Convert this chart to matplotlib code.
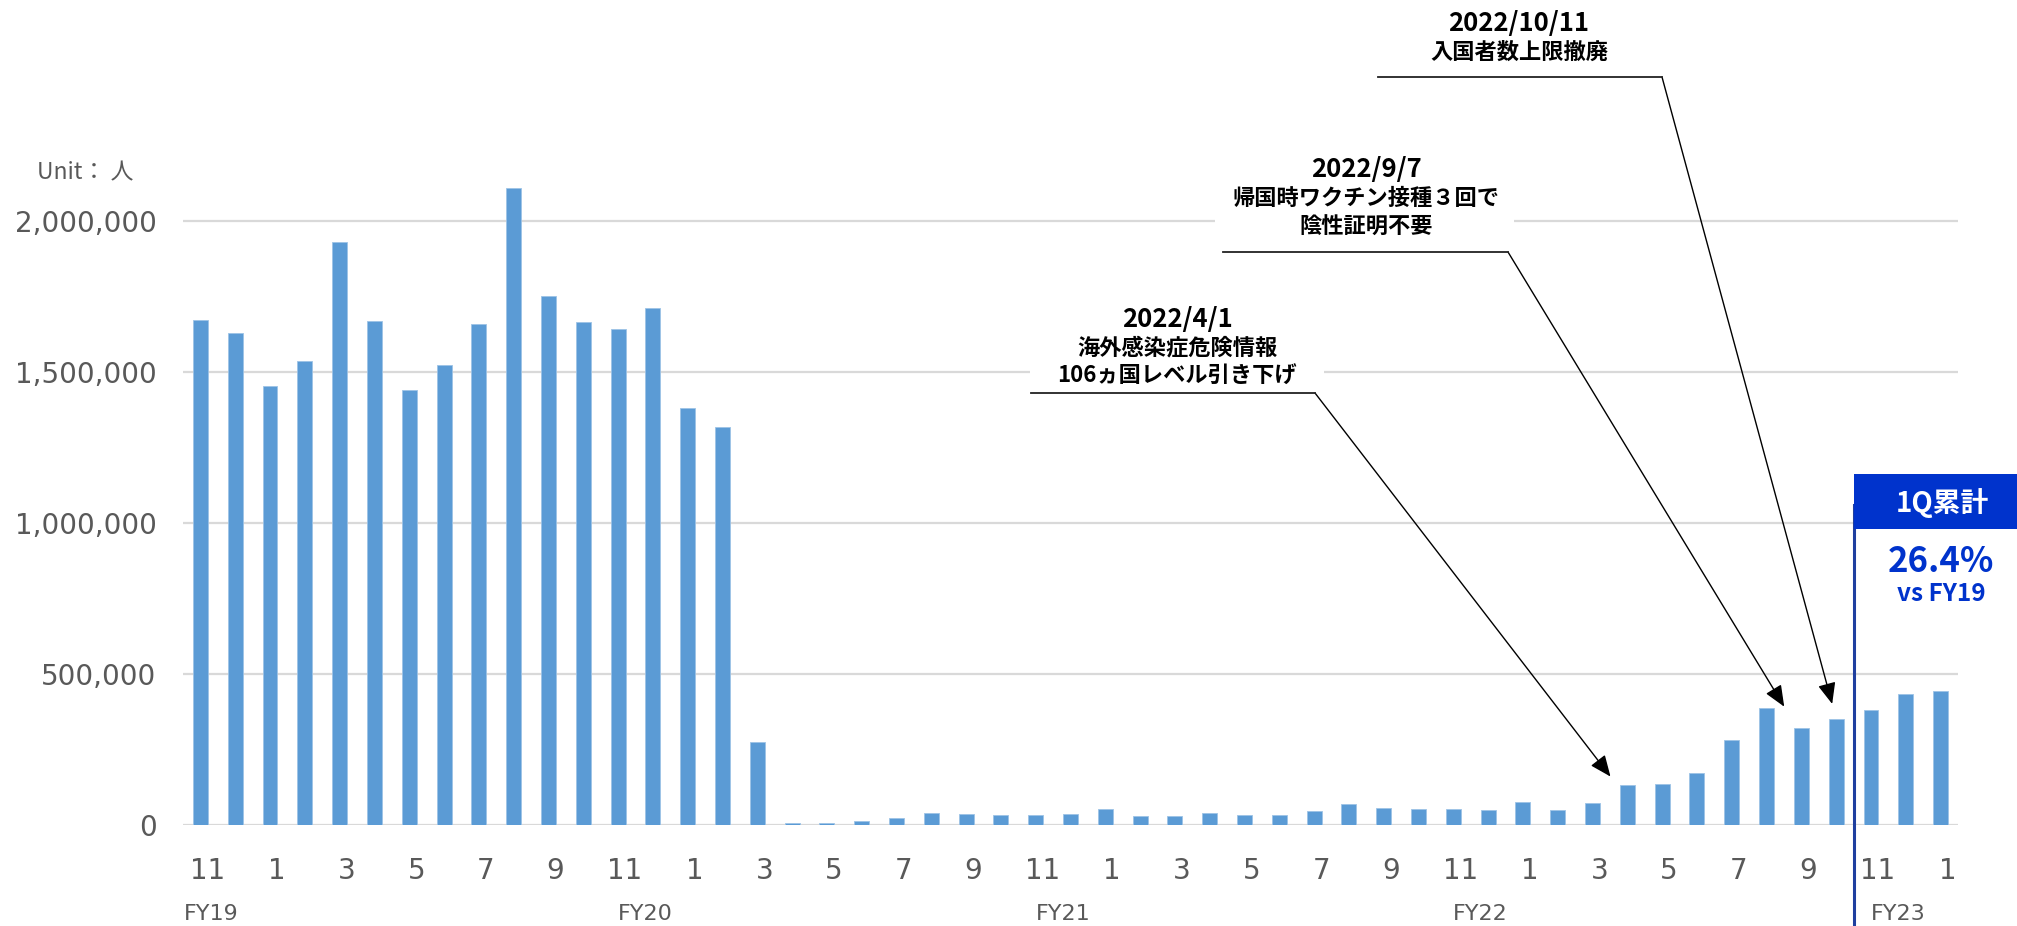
import matplotlib
matplotlib.use('Agg')
import matplotlib.pyplot as plt
from matplotlib.patches import Rectangle
from matplotlib.lines import Line2D
from matplotlib.transforms import ScaledTranslation, blended_transform_factory
from matplotlib.ticker import FuncFormatter

# Monthly outbound travellers, Nov 2018 .. Jan 2023
values = [1673000, 1630000, 1453000, 1536000, 1931000, 1667000, 1439000, 1522000,
          1659000, 2109000, 1751000, 1664000, 1643000, 1712000, 1381000, 1318000,
          273000, 4000, 6000, 11000, 21000, 39000, 34000, 32000, 32000, 35000,
          51000, 27000, 30000, 39000, 31000, 32000, 45000, 67000, 54000, 51000,
          53000, 50000, 76000, 48000, 72000, 130000, 135000, 171000, 280000,
          387000, 320000, 351000, 379000, 434000, 443000]
month_labels = ['11', '1', '3', '5', '7', '9'] * 4 + ['11', '1']
fy_labels = ['FY19', 'FY20', 'FY21', 'FY22', 'FY23']
fy_index = [0, 12, 24, 36, 48]
y_ticks = [0, 500000, 1000000, 1500000, 2000000]

notes = [
    (['2022/4/1', '海外感染症危険情報', '106ヵ国レベル引き下げ'], 41),
    (['2022/9/7', '帰国時ワクチン接種３回で', '陰性証明不要'], 46),
    (['2022/10/11', '入国者数上限撤廃'], 47),
]
q1_title = '1Q累計'
q1_value = '26.4%'
q1_sub = 'vs FY19'

W, H = 2017, 926
BAR = '#5B9BD5'
GRID = '#D9D9D9'
GRAY = '#595959'
BLUE = '#0033CC'
JP = ['Noto Sans CJK JP', 'DejaVu Sans']


def fx(x):
    return x / W


def fy(y):
    return 1 - y / H


fig = plt.figure(figsize=(W / 100, H / 100), dpi=100)
ax = fig.add_axes([fx(183), fy(824.6), fx(1958) - fx(183), (2.3 / 2.0) * (824.6 - 221) / H])

x = list(range(len(values)))
ax.bar(x, values, width=0.43, color=BAR, edgecolor='#9DC3E6', linewidth=0.6, zorder=3)
ax.set_xlim(-0.5, len(values) - 0.5)
ax.set_ylim(0, 2300000)
ax.set_yticks(y_ticks)
ax.yaxis.set_major_formatter(FuncFormatter(lambda v, p: f'{int(v):,}'))
ax.grid(axis='y', color=GRID, linewidth=1.6, zorder=0)
for s in ax.spines.values():
    s.set_visible(False)
ax.tick_params(axis='y', length=0, pad=19, labelsize=20, labelcolor=GRAY)
ax.set_xticks(x[::2])
ax.set_xticklabels(month_labels)
ax.tick_params(axis='x', length=0, pad=23, labelsize=20, labelcolor=GRAY)
for lab in ax.get_xticklabels():
    lab.set_transform(lab.get_transform() + ScaledTranslation(0.07, 0, fig.dpi_scale_trans))

tr = blended_transform_factory(ax.transData, fig.transFigure)
for i, (lab, idx) in enumerate(zip(fy_labels, fy_index)):
    xpos = idx - 0.48 if i == 0 else idx
    ax.text(xpos, fy(914), lab, transform=tr, ha='left', va='center', fontsize=16, color=GRAY)

fig.text(fx(37), fy(173), 'Unit： 人', ha='left', va='center', fontsize=16.5,
         color=GRAY, family=JP)

# annotations: white box, text lines, underline, arrow
boxes = [(1030, 300, 1324, 390), (1215, 150, 1514, 245), None]
centers = [1177, 1366, 1519]
first_y = [319, 170, 24]
under = [(1031, 1315, 393), (1223, 1508, 252), (1378, 1662, 77)]
tip_dx = [-0.29, -0.12, 0.0]
tip_gap = [8, 18, 11]
for k, (lines, idx) in enumerate(notes):
    if boxes[k] is not None:
        x0, y0, x1, y1 = boxes[k]
        fig.add_artist(Rectangle((fx(x0), fy(y1)), fx(x1) - fx(x0), (y1 - y0) / H,
                                 transform=fig.transFigure, facecolor='white',
                                 edgecolor='none', zorder=5))
    for j, t in enumerate(lines):
        size = 18.5 if j == 0 else 16
        fig.text(fx(centers[k]), fy(first_y[k] + 28.5 * j), t, ha='center', va='center',
                 fontsize=size, fontweight='bold', family=JP, color='black', zorder=6)
    ux0, ux1, uy = under[k]
    fig.add_artist(Line2D([fx(ux0), fx(ux1)], [fy(uy), fy(uy)], transform=fig.transFigure,
                          color='#222222', linewidth=1.3, zorder=6))
    ax.annotate('', xy=(idx + tip_dx[k], values[idx]), xycoords='data',
                xytext=(fx(ux1), fy(uy)), textcoords='figure fraction',
                arrowprops=dict(arrowstyle='-|>,head_length=1.3,head_width=0.55',
                                mutation_scale=10, color='black', lw=1.0,
                                shrinkA=0, shrinkB=tip_gap[k]),
                annotation_clip=False, zorder=6)

# 1Q box and separator
fig.add_artist(Line2D([fx(1854), fx(1854)], [fy(926), fy(505)], transform=fig.transFigure,
                      color='#1F3F9F', linewidth=2.2, zorder=6))
fig.add_artist(Rectangle((fx(1854), fy(529)), 1 - fx(1854), 55 / H, transform=fig.transFigure,
                         facecolor=BLUE, edgecolor='none', zorder=7))
fig.text(fx(1942), fy(503), q1_title, ha='center', va='center', fontsize=20,
         fontweight='bold', color='white', family=JP, zorder=8)
fig.text(fx(1941), fy(562), q1_value, ha='center', va='center', fontsize=25,
         fontweight='bold', color=BLUE, family=JP)
fig.text(fx(1941), fy(594), q1_sub, ha='center', va='center', fontsize=17.5,
         fontweight='bold', color=BLUE, family=JP)

fig.savefig('out.png', dpi=100, facecolor='white')
